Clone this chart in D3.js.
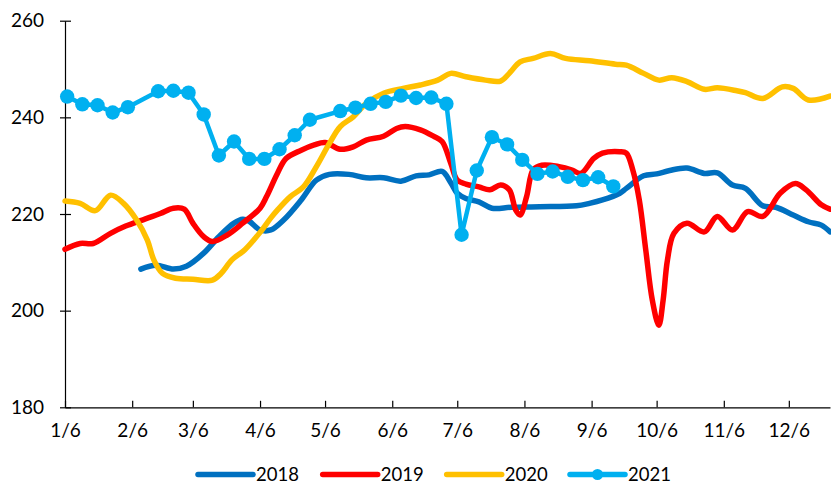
<!DOCTYPE html>
<html>
<head>
<meta charset="utf-8">
<script src="https://cdn.jsdelivr.net/npm/d3@7"></script>
<style>
  html, body { margin: 0; padding: 0; background: #fff; }
  svg { display: block; }
  text { font-family: "Lato", "Liberation Sans", sans-serif; fill: #000; }
</style>
</head>
<body>
<svg id="chart" width="831" height="486"></svg>
<script>
// Weekly price series by year, plotted on a common month/day axis
const years = ["2018", "2019", "2020", "2021"];

const dates2018 = ["02-10","02-17","02-25","03-03","03-11","03-18","03-25","03-29","04-01","04-06","04-11","04-17","04-25","05-02","05-08","05-17","05-25","06-02","06-10","06-17","06-23","06-29","07-03","07-06","07-10","07-16","07-22","07-31","08-13","08-30","09-05","09-11","09-19","09-22","09-30","10-06","10-12","10-20","10-28","11-03","11-10","11-16","11-24","11-30","12-08","12-15","12-21","12-25"];
const values2018 = [208.6,209.4,208.6,209.2,211.9,215.3,218.1,218.9,218.5,216.7,216.7,218.8,222.9,227.0,228.2,228.2,227.5,227.5,226.8,227.9,228.1,228.8,226.5,224.3,223.2,222.5,221.2,221.4,221.5,221.7,222.2,222.9,224.3,225.3,227.9,228.3,229.0,229.5,228.4,228.5,226.0,225.3,221.7,221.4,219.8,218.4,217.7,216.3];

const dates2019 = ["01-06","01-13","01-19","01-27","02-03","02-11","02-19","02-25","03-02","03-06","03-11","03-15","03-22","03-29","04-06","04-09","04-14","04-18","04-25","05-01","05-06","05-13","05-19","05-25","06-02","06-08","06-12","06-19","06-25","06-29","07-03","07-06","07-10","07-16","07-21","07-26","07-30","08-02","08-04","08-07","08-10","08-14","08-22","08-28","09-01","09-07","09-11","09-19","09-22","09-25","09-28","10-01","10-04","10-07","10-09","10-11","10-14","10-20","10-28","11-03","11-10","11-17","11-24","12-02","12-09","12-14","12-21","12-25"];
const values2019 = [212.7,213.9,213.9,216.0,217.5,218.8,220.1,221.2,221.0,218.1,215.3,214.3,215.7,218.1,221.2,223.6,228.4,231.5,233.2,234.3,234.8,233.4,233.9,235.3,236.1,237.7,238.1,237.4,236.1,235.0,230.5,227.0,226.2,225.6,225.0,226.0,225.0,220.8,219.8,223.6,229.1,230.1,229.8,229.1,228.4,231.5,232.6,232.9,232.6,229.1,222.9,212.5,202.2,197.0,202.2,210.5,216.0,218.1,216.3,219.5,216.7,220.5,219.5,224.3,226.3,225.0,221.9,221.0];

const dates2020 = ["01-06","01-13","01-20","01-27","02-02","02-08","02-13","02-16","02-20","02-26","03-06","03-15","03-19","03-24","03-30","04-06","04-11","04-14","04-20","04-26","05-02","05-08","05-13","05-19","05-25","06-02","06-11","06-19","06-27","07-03","07-10","07-19","07-26","07-30","08-04","08-10","08-18","08-25","09-05","09-17","09-22","09-30","10-07","10-13","10-20","10-28","11-03","11-12","11-16","11-24","12-03","12-08","12-15","12-25"];
const values2020 = [222.7,222.2,220.7,223.9,222.2,218.8,214.6,210.5,207.7,206.7,206.5,206.3,207.7,210.5,212.6,216.2,219.2,220.8,223.6,225.6,229.8,234.6,238.1,240.1,242.9,245.0,246.0,246.7,247.7,249.1,248.4,247.7,247.5,249.1,251.5,252.2,253.2,252.2,251.7,251.0,250.8,249.1,247.7,248.2,247.4,245.8,246.1,245.5,245.1,243.9,246.3,246.0,243.6,244.4];

const dates2021 = ["01-07","01-14","01-21","01-28","02-04","02-18","02-25","03-04","03-11","03-18","03-25","04-01","04-08","04-15","04-22","04-29","05-13","05-20","05-27","06-03","06-10","06-17","06-24","07-01","07-08","07-15","07-22","07-29","08-05","08-12","08-19","08-26","09-02","09-09","09-16"];
const values2021 = [244.3,242.7,242.5,241.0,242.1,245.4,245.5,245.1,240.6,232.1,235.0,231.4,231.4,233.4,236.3,239.5,241.3,242.0,242.8,243.2,244.5,244.0,244.1,242.8,215.7,229.0,235.9,234.4,231.2,228.3,228.8,227.7,227.0,227.6,225.7];

const seriesColors = ["#0070C0", "#FF0000", "#FFC000", "#00B0F0"];

const yTicks = [180, 200, 220, 240, 260];
const monthTicks = d3.range(12).map(m => new Date(2021, m, 6));

const baseYear = 2021;
const parseMD = md => {
  const [m, d] = md.split("-").map(Number);
  return new Date(baseYear, m - 1, d);
};

const series = [
  { name: years[0], dates: dates2018, values: values2018, color: seriesColors[0], markers: false },
  { name: years[1], dates: dates2019, values: values2019, color: seriesColors[1], markers: false },
  { name: years[2], dates: dates2020, values: values2020, color: seriesColors[2], markers: false },
  { name: years[3], dates: dates2021, values: values2021, color: seriesColors[3], markers: true }
].map(s => ({ ...s, points: s.dates.map((d, i) => ({ date: parseMD(d), value: s.values[i] })) }));

const svg = d3.select("#chart");

const plot = { left: 65, right: 830, top: 20.7, bottom: 407.3 };

const x = d3.scaleTime()
  .domain([new Date(2021, 0, 6), new Date(2021, 11, 25)])
  .range([plot.left, plot.right]);

const y = d3.scaleLinear()
  .domain([180, 260])
  .range([plot.bottom, plot.top]);

// Axes
const yAxis = d3.axisLeft(y).tickValues(yTicks).tickSize(0).tickPadding(21).tickFormat(d3.format("d"));
const yG = svg.append("g").attr("transform", `translate(${plot.left},0)`).call(yAxis);
yG.select(".domain").attr("stroke", "#000").attr("stroke-width", 1.2);
yG.selectAll(".tick text").attr("font-size", 19).attr("fill", "#000").attr("font-family", "Lato, 'Liberation Sans', sans-serif");
yG.selectAll(".tick").append("line").attr("x1", -5).attr("x2", 6).attr("stroke", "#000").attr("stroke-width", 1.2);

const xAxis = d3.axisBottom(x).tickValues(monthTicks).tickSize(0).tickPadding(16).tickFormat(d3.timeFormat("%-m/%-d"));
const xG = svg.append("g").attr("transform", `translate(0,${plot.bottom})`).call(xAxis);
xG.select(".domain").attr("stroke", "#000").attr("stroke-width", 1.2);
xG.selectAll(".tick text").attr("font-size", 19).attr("fill", "#000").attr("font-family", "Lato, 'Liberation Sans', sans-serif");
xG.selectAll(".tick").append("line").attr("y1", 0).attr("y2", -6.5).attr("stroke", "#000").attr("stroke-width", 1.2);

// Lines
const smoothLine = d3.line().x(d => x(d.date)).y(d => y(d.value)).curve(d3.curveCatmullRom.alpha(0.5));
const straightLine = d3.line().x(d => x(d.date)).y(d => y(d.value));

series.forEach(s => {
  svg.append("path")
    .datum(s.points)
    .attr("fill", "none")
    .attr("stroke", s.color)
    .attr("stroke-width", s.markers ? 4.5 : 5.5)
    .attr("stroke-linejoin", "round")
    .attr("stroke-linecap", "round")
    .attr("d", s.markers ? straightLine : smoothLine);
  if (s.markers) {
    svg.append("g").selectAll("circle")
      .data(s.points)
      .join("circle")
      .attr("cx", d => x(d.date))
      .attr("cy", d => y(d.value))
      .attr("r", 7.2)
      .attr("fill", s.color);
  }
});

// Legend
const legendStarts = [198, 322.7, 446.7, 570];
const legendY = 474.5;
const legend = svg.append("g");
series.forEach((s, i) => {
  const g = legend.append("g").attr("transform", `translate(${legendStarts[i]},${legendY})`);
  g.append("line").attr("x1", 0).attr("x2", 55).attr("stroke", s.color)
    .attr("stroke-width", 5.5).attr("stroke-linecap", "round");
  if (s.markers) g.append("circle").attr("cx", 27.5).attr("r", 5.5).attr("fill", s.color);
  g.append("text").attr("x", 58).attr("y", 6.5).attr("font-size", 18.5).text(s.name);
});
</script>
</body>
</html>
